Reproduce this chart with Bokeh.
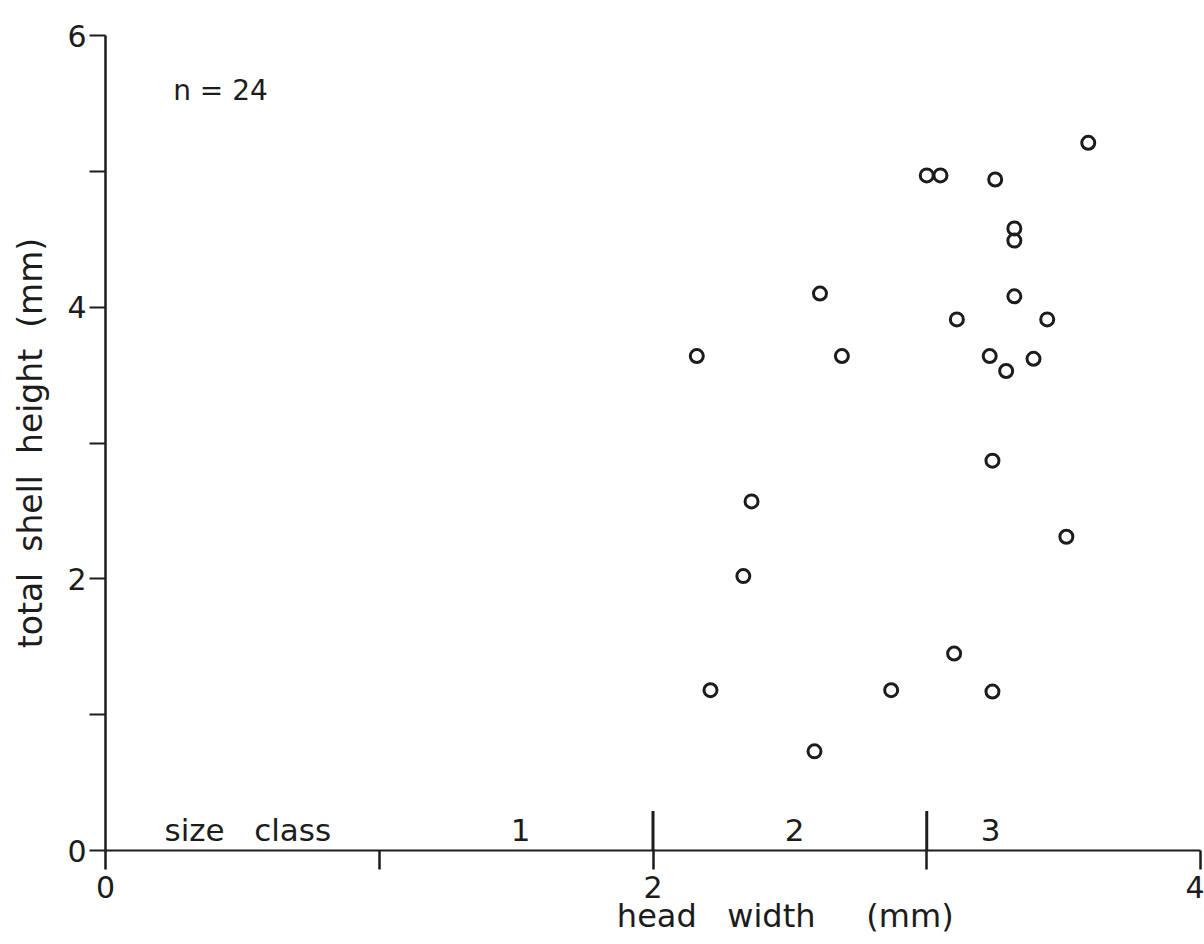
from bokeh.embed import file_html
from bokeh.models import FixedTicker, Label, Range1d
from bokeh.plotting import figure
from bokeh.resources import INLINE

# Head width (mm) and total shell height (mm) of each individual
head_width = [2.16, 2.21, 2.36, 2.33, 2.61, 2.69, 2.59, 2.87, 3.00, 3.05, 3.25, 3.32,
              3.32, 3.32, 3.11, 3.44, 3.23, 3.29, 3.39, 3.59, 3.24, 3.51, 3.10, 3.24]
shell_height = [3.64, 1.18, 2.57, 2.02, 4.10, 3.64, 0.73, 1.18, 4.97, 4.97, 4.94, 4.58,
                4.49, 4.08, 3.91, 3.91, 3.64, 3.53, 3.62, 5.21, 2.87, 2.31, 1.45, 1.17]

# Axis ticks and their printed labels
x_ticks = [0, 1, 2, 3, 4]
x_tick_labels = {1: "", 3: ""}
y_ticks = [0, 1, 2, 3, 4, 5, 6]
y_tick_labels = {1: "", 3: "", 5: ""}

# Head-width limits between size classes, and the class names
class_bounds = [2.0, 3.0]
class_names = ["1", "2", "3"]

INK = "#1c1c1c"
FONT = "DejaVu Sans"
NB = "\u00a0"

p = figure(width=1204, height=944, output_backend="svg", toolbar_location=None,
           x_range=Range1d(0, 4), y_range=Range1d(0, 6),
           min_border_left=105, min_border_right=4, min_border_top=35,
           min_border_bottom=94)
p.outline_line_color = None
p.grid.visible = False
p.background_fill_color = "white"
p.border_fill_color = "white"

# x axis; the title sits right of centre, so it is padded on the left
xa = p.xaxis[0]
xa.ticker = FixedTicker(ticks=x_ticks)
xa.major_label_overrides = x_tick_labels
xa.minor_tick_line_color = None
xa.major_tick_in = 0
xa.major_tick_out = 19
xa.major_tick_line_width = 2.5
xa.major_tick_line_color = INK
xa.axis_line_width = 2
xa.axis_line_color = INK
xa.major_label_standoff = 6
xa.major_label_text_font = FONT
xa.major_label_text_font_size = "30px"
xa.major_label_text_color = INK
xa.axis_label = NB * 26 + f"head{NB}{NB}{NB}width{NB}{NB}{NB}{NB}{NB}(mm)"
xa.axis_label_standoff = -4
xa.axis_label_text_font = FONT
xa.axis_label_text_font_size = "32px"
xa.axis_label_text_font_style = "normal"
xa.axis_label_text_color = INK

# y axis
ya = p.yaxis[0]
ya.ticker = FixedTicker(ticks=y_ticks)
ya.major_label_overrides = y_tick_labels
ya.minor_tick_line_color = None
ya.major_tick_in = 0
ya.major_tick_out = 16
ya.major_tick_line_width = 2
ya.major_tick_line_color = INK
ya.axis_line_width = 2.5
ya.axis_line_color = INK
ya.major_label_standoff = 3
ya.major_label_text_font = FONT
ya.major_label_text_font_size = "30px"
ya.major_label_text_color = INK
ya.major_label_orientation = "horizontal"
ya.axis_label = f"total{NB}{NB}shell{NB}{NB}height{NB}{NB}(mm)"
ya.axis_label_standoff = 14
ya.axis_label_text_font = FONT
ya.axis_label_text_font_size = "33px"
ya.axis_label_text_font_style = "normal"
ya.axis_label_text_color = INK

# size-class dividers rising from the x axis
p.segment(x0=class_bounds, y0=[0] * len(class_bounds), x1=class_bounds,
          y1=[0.29] * len(class_bounds), line_color=INK, line_width=3)

# the measurements
p.scatter(head_width, shell_height, marker="circle", size=13, fill_color=None,
          line_color=INK, line_width=3)


def label(x, y, text, size, align="center"):
    p.add_layout(Label(x=x, y=y, text=text, text_font=FONT, text_font_size=size,
                       text_color=INK, text_align=align, text_baseline="middle"))


label(0.52, 0.15, f"size{NB}{NB}{NB}class", "31px")
for name, xpos in zip(class_names, [1.516, 2.517, 3.233]):
    label(xpos, 0.15, name, "31px")

label(0.42, 5.595, f"n{NB}={NB}{len(head_width)}", "28px")

open("out.html", "w").write(file_html(p, INLINE))
